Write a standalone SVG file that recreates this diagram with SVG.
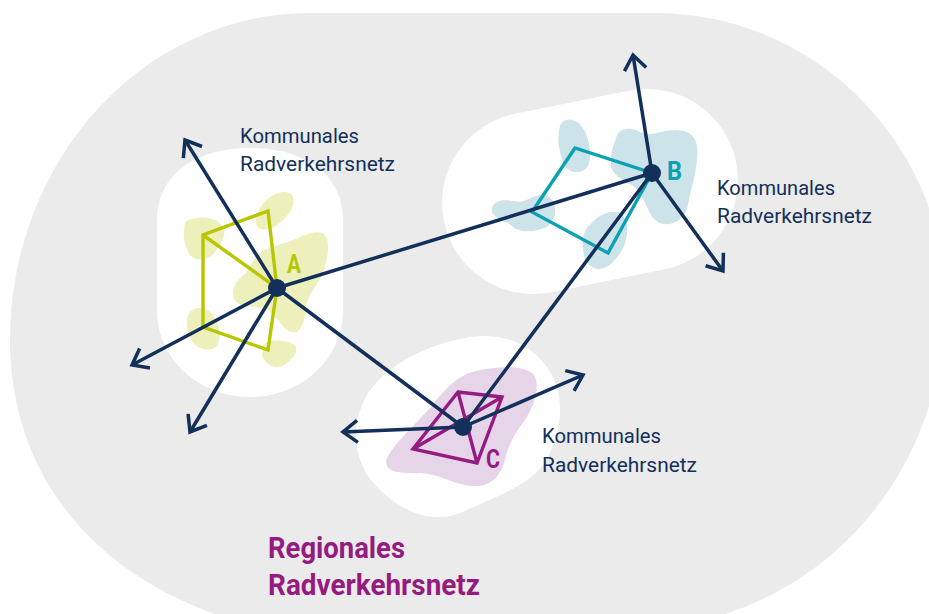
<svg xmlns="http://www.w3.org/2000/svg" width="929" height="614" viewBox="0 0 929 614">
<defs>
<style>
.bg{fill:#ebebeb}
.white{fill:#ffffff}
.ya{fill:#edf0bb}
.tb{fill:#cde3ea}
.pc{fill:#e6d5e8}
.pa{fill:none;stroke:#b8c600;stroke-width:3.4;stroke-linejoin:miter}
.pb{fill:none;stroke:#0aa1b3;stroke-width:3.4;stroke-linejoin:miter}
.pcp{fill:none;stroke:#951b81;stroke-width:3.4;stroke-linejoin:miter}
.edge{fill:none;stroke:#13305a;stroke-width:3.5}
.arrow{marker-end:url(#head)}
.dot{fill:#13305a}
.lbl{font-family:Roboto,"Liberation Sans",sans-serif;font-size:21px;fill:#13305a}
.letter{font-family:Roboto,"Liberation Sans",sans-serif;font-size:25px;font-weight:700}
.reg{font-family:Roboto,"Liberation Sans",sans-serif;font-size:29px;font-weight:700;fill:#951b81}
</style>
<marker id="head" markerUnits="userSpaceOnUse" markerWidth="40" markerHeight="40" viewBox="-20 -20 40 40" refX="0" refY="0" orient="auto">
<path d="M-14.5,-11 L0,0 L-14.5,11" fill="none" stroke="#13305a" stroke-width="3.5" stroke-linejoin="miter"/>
</marker>
</defs>

<g id="region">
<path class="bg" d="M 310,13 L 655,13 C 820,13 945,150 945,300 C 945,470 830,600 680,625 L 250,625 C 100,585 10,480 10,340 A 300 327 0 0 1 310,13 Z"/>
</g>

<g id="area-A">
<path class="white" d="M 157,220 C 157,175 195,148 250,148 C 305,148 343,175 343,220 L 343,310 C 343,360 300,397 250,397 C 200,397 157,360 157,310 Z"/>
<path class="ya" d="M 262,205 C 268,196 283,188 291,194 C 297,200 292,212 283,220 C 275,228 262,234 257,226 C 254,220 258,211 262,205 Z"/>
<path class="ya" d="M 185,222 C 195,215 215,216 222,225 C 228,235 220,245 215,252 C 210,260 195,262 190,255 C 186,248 183,240 184,232 Z"/>
<path class="ya" d="M 255,258 C 262,248 275,246 288,242 C 300,238 312,230 322,233 C 332,238 328,258 323,272 C 318,286 308,292 306,308 C 305,322 300,335 291,332 C 282,329 279,318 268,310 C 258,304 242,310 235,300 C 229,290 237,280 245,274 C 250,270 251,263 255,258 Z"/>
<path class="ya" d="M 190,312 C 196,305 208,308 214,316 C 220,325 222,340 216,347 C 208,353 196,348 191,340 C 186,332 185,318 190,312 Z"/>
<path class="ya" d="M 263,345 C 270,338 288,340 295,345 C 300,352 290,362 282,366 C 272,370 264,362 262,355 Z"/>
<path class="pa" d="M 268,211 L 203,235 L 203,327 L 268,350 L 277,288 Z M 203,235 L 277,288"/>
</g>

<g id="area-B">
<rect class="white" x="441" y="100.5" width="298" height="182" rx="91" ry="91" transform="rotate(-11.4 590 191.5)"/>
<path class="tb" d="M 560,126 C 564,116 578,118 584,130 C 590,140 592,158 588,166 C 583,174 570,174 565,166 C 560,156 556,140 560,126 Z"/>
<path class="tb" d="M 616,138 C 618,128 630,126 640,132 C 650,138 660,130 675,130 C 695,130 699,142 697,160 C 695,180 690,192 688,205 C 685,222 668,228 658,222 C 648,216 646,200 638,190 C 628,180 612,178 611,165 C 610,152 614,145 616,138 Z"/>
<path class="tb" d="M 492,208 C 495,198 510,200 520,202 C 530,200 537,192 548,196 C 558,202 557,220 548,226 C 538,232 520,234 512,226 C 505,220 490,218 492,208 Z"/>
<path class="tb" d="M 590,225 C 598,215 612,208 622,214 C 630,222 628,240 622,250 C 615,262 605,272 594,268 C 584,264 582,250 583,240 C 584,232 586,228 590,225 Z"/>
<path class="pb" d="M 575,148 L 532,212 L 608,253 L 652,173 Z"/>
</g>

<g id="area-C">
<path class="white" d="M 470,337 C 505,332 535,345 552,375 C 565,400 562,435 545,462 C 530,485 500,495 460,513 C 430,525 400,510 378,488 C 356,466 350,435 362,405 C 375,372 420,345 470,337 Z"/>
<path class="pc" d="M 387,458 C 395,442 415,425 430,408 C 445,390 455,375 480,370 C 500,367 520,365 532,373 C 542,382 535,405 525,420 C 515,433 508,445 505,460 C 500,478 490,487 472,486 C 455,485 440,474 420,473 C 400,474 382,472 387,458 Z"/>
<path class="pcp" d="M 458,392 L 502,397 L 477,463 L 413,449 Z M 458,392 L 477,463 M 502,397 L 413,449"/>
</g>

<g id="connectors">
<line class="edge" x1="277" y1="288" x2="652" y2="173"/>
<line class="edge" x1="277" y1="288" x2="463" y2="427"/>
<line class="edge" x1="652" y1="173" x2="463" y2="427"/>
<line class="edge arrow" x1="277" y1="288" x2="185" y2="140"/>
<line class="edge arrow" x1="277" y1="288" x2="132" y2="365"/>
<line class="edge arrow" x1="277" y1="288" x2="190" y2="432"/>
<line class="edge arrow" x1="652" y1="173" x2="633" y2="55"/>
<line class="edge arrow" x1="652" y1="173" x2="723" y2="271"/>
<line class="edge arrow" x1="463" y1="427" x2="343" y2="432"/>
<line class="edge arrow" x1="463" y1="427" x2="583" y2="375"/>
</g>

<g id="node-A">
<circle class="dot" cx="277" cy="288" r="9"/>
<text class="letter" x="287" y="273" fill="#b8c600" textLength="14" lengthAdjust="spacingAndGlyphs">A</text>
<text class="lbl" x="240" y="143" textLength="119" lengthAdjust="spacingAndGlyphs">Kommunales</text>
<text class="lbl" x="240" y="171" textLength="155" lengthAdjust="spacingAndGlyphs">Radverkehrsnetz</text>
</g>

<g id="node-B">
<circle class="dot" cx="652" cy="173" r="9"/>
<text class="letter" x="667" y="180" fill="#0aa1b3" textLength="15" lengthAdjust="spacingAndGlyphs">B</text>
<text class="lbl" x="717" y="195" textLength="118" lengthAdjust="spacingAndGlyphs">Kommunales</text>
<text class="lbl" x="717" y="223" textLength="155" lengthAdjust="spacingAndGlyphs">Radverkehrsnetz</text>
</g>

<g id="node-C">
<circle class="dot" cx="463" cy="427" r="9"/>
<text class="letter" x="486" y="468" fill="#951b81" textLength="14" lengthAdjust="spacingAndGlyphs">C</text>
<text class="lbl" x="542" y="443" textLength="119" lengthAdjust="spacingAndGlyphs">Kommunales</text>
<text class="lbl" x="542" y="472" textLength="155" lengthAdjust="spacingAndGlyphs">Radverkehrsnetz</text>
</g>

<g id="regional-label">
<text class="reg" x="268" y="558" textLength="137" lengthAdjust="spacingAndGlyphs">Regionales</text>
<text class="reg" x="268" y="595" textLength="212" lengthAdjust="spacingAndGlyphs">Radverkehrsnetz</text>
</g>
</svg>
